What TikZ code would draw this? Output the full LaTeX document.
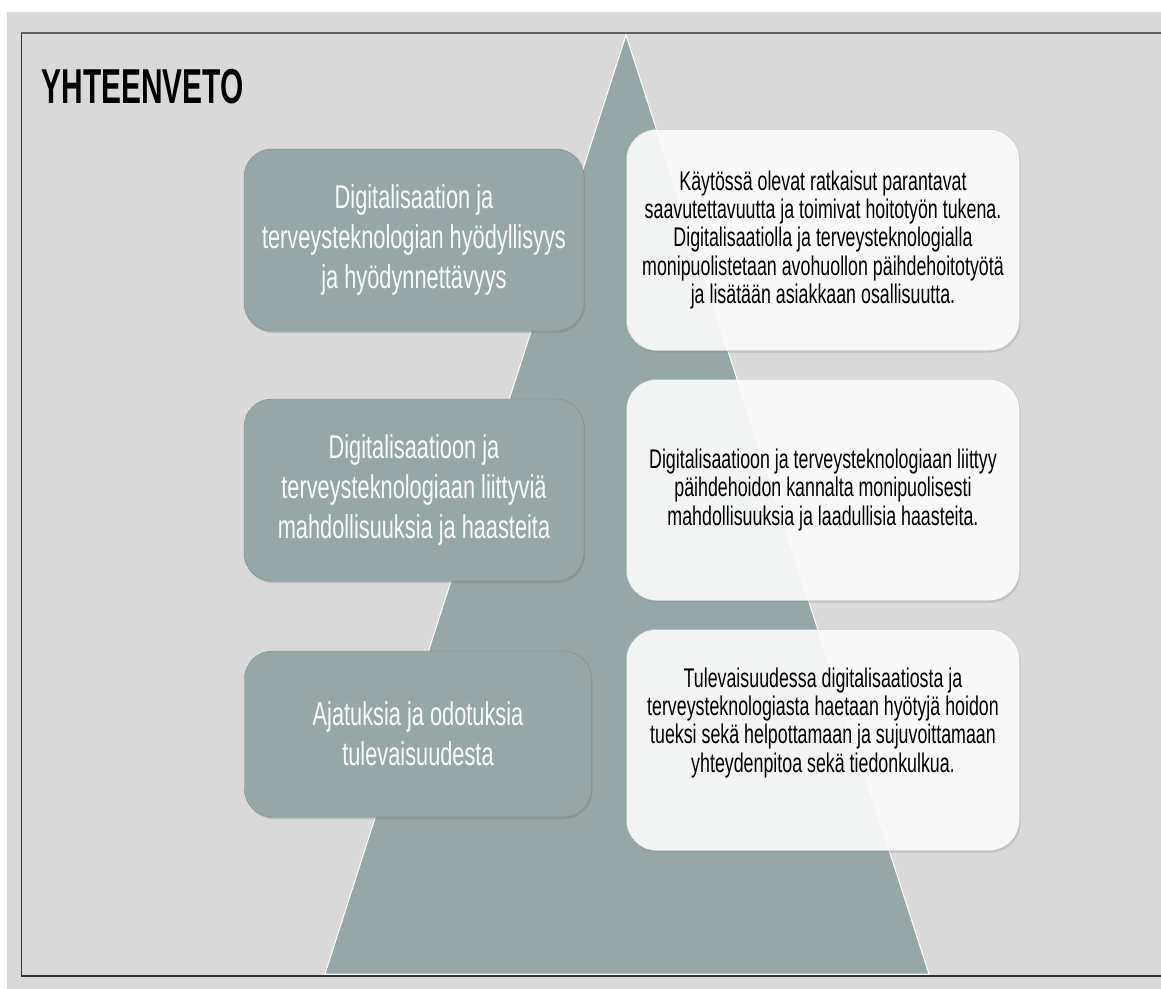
\documentclass[tikz,border=0pt]{standalone}
\usepackage{fontspec}
\setmainfont{Liberation Sans}
\newfontfamily\narrowfont{Liberation Sans}[FakeStretch=0.66]
\newfontfamily\titlefont{Liberation Sans}[FakeStretch=0.61]
\usepackage{xcolor}
\usepackage{tikz}
\usetikzlibrary{positioning, shadows}

\definecolor{slidebg}{HTML}{D9D9D9}
\definecolor{pyramid}{HTML}{95A7A6}
\definecolor{topicedge}{HTML}{7D8D8C}
\definecolor{summaryedge}{HTML}{C2C2C2}

\tikzset{
  topic/.style={draw=topicedge, fill=pyramid, rounded corners=28pt, minimum width=340pt,
    minimum height=182pt, align=center, text=white!95!pyramid,
    font=\narrowfont\fontsize{33}{40}\selectfont,
    drop shadow={shadow xshift=1pt, shadow yshift=-2pt, opacity=0.35}},
  summary/.style={draw=summaryedge, fill=white, fill opacity=0.89, text opacity=1,
    rounded corners=30pt, minimum width=393pt, minimum height=221pt, align=center,
    font=\narrowfont\fontsize{27}{28.4}\selectfont,
    drop shadow={shadow xshift=1pt, shadow yshift=-2pt, opacity=0.25}}
}

\begin{document}
\begin{tikzpicture}[x=1pt, y=-1pt, node distance=250pt, on grid]

  \useasboundingbox (0,0) rectangle (1161,988);
  \fill[slidebg] (7,12) rectangle (1175,995);

  % frame of the slide
  \draw[black!62, line width=2pt] (21,33) -- (1175,33);
  \draw[black!80, line width=1pt] (21,33) -- (21,976);
  \draw[black!80, line width=2pt] (21,976) -- (1175,976);

  % pyramid
  \draw[white, line width=1pt, fill=pyramid] (626,35) -- (929,974) -- (325,974) -- cycle;

  \node[anchor=base west, font=\titlefont\bfseries\fontsize{49}{49}\selectfont] (Ti) at (38,103) {YHTEENVETO};

  \node[topic] (T1) at (414,240) {Digitalisaation ja\\ terveysteknologian hyödyllisyys\\ ja hyödynnettävyys};
  \node[topic] (T2) [below=of T1] {Digitalisaatioon ja\\ terveysteknologiaan liittyviä\\ mahdollisuuksia ja haasteita};
  \node[topic, minimum width=347pt, minimum height=166pt] (T3) [below=244pt of T2, xshift=4pt] {Ajatuksia ja odotuksia\\ tulevaisuudesta};

  \node[summary] (S1) [right=409pt of T1] {Käytössä olevat ratkaisut parantavat\\ saavutettavuutta ja toimivat hoitotyön tukena.\\ Digitalisaatiolla ja terveysteknologialla\\ monipuolistetaan avohuollon päihdehoitotyötä\\ ja lisätään asiakkaan osallisuutta.};
  \node[summary] (S2) [below=of S1] {Digitalisaatioon ja terveysteknologiaan liittyy\\ päihdehoidon kannalta monipuolisesti\\ mahdollisuuksia ja laadullisia haasteita.};
  \node[summary, text depth=40pt] (S3) [below=of S2] {Tulevaisuudessa digitalisaatiosta ja\\ terveysteknologiasta haetaan hyötyjä hoidon\\ tueksi sekä helpottamaan ja sujuvoittamaan\\ yhteydenpitoa sekä tiedonkulkua.};

\end{tikzpicture}
\end{document}
